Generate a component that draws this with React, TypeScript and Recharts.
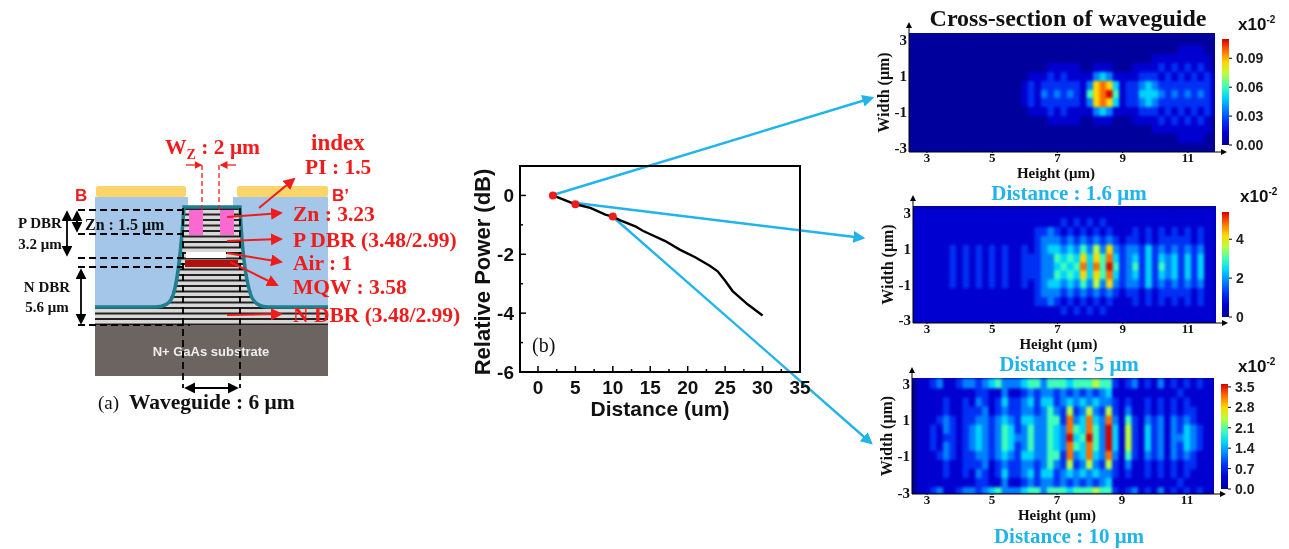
import React from 'react';
import {
  BarChart,
  Bar,
  LineChart,
  Line,
  ScatterChart,
  Scatter,
  XAxis,
  YAxis,
  ReferenceArea,
} from 'recharts';

const SERIF = '"Liberation Serif", serif';
const SANS = '"Liberation Sans", Arial, sans-serif';
const RED = '#f01c1c';
const CYAN = '#20b4ea';

// relative power curve, panel (b)
const distances = [2, 3, 5, 7, 9, 10, 11, 13, 14, 15, 17, 19, 21, 23, 24, 25, 26, 28, 30];
const powers = [0, -0.1, -0.3, -0.42, -0.65, -0.72, -0.85, -1.05, -1.2, -1.32, -1.55, -1.85, -2.1, -2.4, -2.58, -2.9, -3.25, -3.7, -4.08];
const probeDistances = [2, 5, 10];
const probePowers = [0, -0.3, -0.72];
const distanceTicks = [0, 2.5, 5, 7.5, 10, 12.5, 15, 17.5, 20, 22.5, 25, 27.5, 30, 32.5, 35];
const powerTicks = [-6, -5, -4, -3, -2, -1, 0];

// field maps: one digit (0-9 colour level) per cell, rows go from width 0 up to width 3
const cellHeights = [2.6, 2.8, 3, 3.2, 3.4, 3.6, 3.8, 4, 4.2, 4.4, 4.6, 4.8, 5, 5.2, 5.4, 5.6, 5.8, 6, 6.2, 6.4, 6.6, 6.8, 7, 7.2, 7.4, 7.6, 7.8, 8, 8.2, 8.4, 8.6, 8.8, 9, 9.2, 9.4, 9.6, 9.8, 10, 10.2, 10.4, 10.6, 10.8, 11, 11.2, 11.4, 11.6, 11.8];
const cellWidths = [0, 0.5, 1, 1.5, 2, 2.5, 3];

const field16 = [
  '00000000000000000121323232157895122444323232321',
  '00000000000000000121222222137874122343222222221',
  '00000000000000000011121211113431111222121212121',
  '00000000000000000000011111001110001111212121210',
  '00000000000000000000000000000000000001111111110',
  '00000000000000000000000000000000000000000111100',
  '00000000000000000000000000000000000000000000000',
];
const field5 = [
  '11111121212121211222334545848595235242534242411',
  '11111121212121211222335454747584234242434242411',
  '11111121212121211212344343536373233242323232311',
  '11111111111111111112333232323232122121222221211',
  '11111111111111111112232121212121112121212121211',
  '11111111111111111111111212121211111111111111111',
  '11111111111111111111111111111111111111111111111',
];
const field10 = [
  '01121221234323543353354394595394162142313343211',
  '01121321234323542353354385485394162142313243211',
  '01112321223323432443355283484383152132313232111',
  '01111211222312322332353262363262131121212122111',
  '01111211213212422342442343434332121121212121111',
  '01111111112211311232332323232341111111111211111',
  '01123112332345333455355545556552123121312121211',
];

const jetLevels = ['#00009c', '#0000d0', '#0030f4', '#0080ff', '#00d4ff', '#40ffb8', '#b8ff40', '#ffd800', '#ff6c00', '#d80000'];

const heightTicks = [3, 5, 7, 9, 11];
const widthTicks = [3, 1, -1, -3];

const barTicks16 = [0, 0.03, 0.06, 0.09];
const barTicks5 = [0, 2, 4];
const barTicks10 = [0, 0.7, 1.4, 2.1, 2.8, 3.5];

const toCells = (rows: string[]) =>
  rows.flatMap((row, r) =>
    row.split('').flatMap((c, i) => {
      const cell = { h: cellHeights[i], w: cellWidths[r], level: Number(c) };
      return r === 0 ? [cell] : [cell, { ...cell, w: -cellWidths[r] }];
    })
  );

const CellShape = (props: any) => (
  <rect
    x={props.cx - 3.5}
    y={props.cy - 5}
    width={7}
    height={10}
    fill={jetLevels[props.payload.level]}
  />
);

const NoShape = () => <g />;

interface PanelProps {
  id: string;
  rows: string[];
  plot: { left: number; top: number; right: number; bottom: number };
  xDomain: number[];
  yDomain: number[];
  bar: { left: number; right: number; top: number; bottom: number };
  barMax: number;
  barTicks: number[];
  barDigits: number;
  caption: string;
  captionX: number;
  captionY: number;
}

// one field map: blurred cells, axes on top, colour bar at the side
const FieldPanel = ({ id, rows, plot, xDomain, yDomain, bar, barMax, barTicks, barDigits, caption, captionX, captionY }: PanelProps) => {
  const cells = toCells(rows);
  const w = plot.right - plot.left;
  const h = plot.bottom - plot.top;
  const chartLeft = plot.left - 44;
  return (
    <>
      <div style={{ position: 'absolute', left: plot.left, top: plot.top, width: w, height: h, overflow: 'hidden', background: jetLevels[0] }}>
        <div style={{ filter: 'blur(1.5px)' }}>
          <ScatterChart width={w} height={h} margin={{ top: 0, right: 0, bottom: 0, left: 0 }}>
            <XAxis type="number" dataKey="h" domain={xDomain} hide />
            <YAxis type="number" dataKey="w" domain={yDomain} hide />
            <Scatter data={cells} shape={CellShape} isAnimationActive={false} />
          </ScatterChart>
        </div>
      </div>
      <div style={{ position: 'absolute', left: chartLeft, top: plot.top - 10 }}>
        <ScatterChart width={w + 44 + 6} height={h + 44} margin={{ top: 10, right: 6, bottom: 0, left: 0 }}>
          <XAxis
            type="number"
            dataKey="h"
            domain={xDomain}
            ticks={heightTicks}
            interval={0}
            height={34}
            tickSize={1}
            tickMargin={0}
            stroke="#000"
            tick={{ fontFamily: SERIF, fontWeight: 700, fontSize: 13, fill: '#111' }}
            label={{ value: 'Height (μm)', position: 'insideBottom', offset: 8, dx: -6, style: { fontFamily: SERIF, fontWeight: 700, fontSize: 15, fill: '#111' } }}
          />
          <YAxis
            type="number"
            dataKey="w"
            domain={yDomain}
            ticks={widthTicks}
            interval={0}
            width={44}
            tickSize={0}
            tickMargin={2}
            stroke="#000"
            tick={{ fontFamily: SERIF, fontWeight: 700, fontSize: 15, fill: '#111' }}
            label={{ value: 'Width (μm)', angle: -90, position: 'insideLeft', offset: 18, style: { textAnchor: 'middle', fontFamily: SERIF, fontWeight: 700, fontSize: 16, fill: '#111' } }}
          />
          <Scatter data={cells.slice(0, 1)} shape={NoShape} isAnimationActive={false} />
        </ScatterChart>
      </div>
      <svg width={1289} height={549} style={{ position: 'absolute', left: 0, top: 0, pointerEvents: 'none' }}>
        <path d={`M${plot.left},${plot.top} V${plot.top - 8}`} stroke="#000" strokeWidth={1} />
        <path d={`M${plot.left - 3},${plot.top - 5} L${plot.left},${plot.top - 11} L${plot.left + 3},${plot.top - 5} Z`} fill="#000" />
        <path d={`M${plot.right},${plot.bottom} H${plot.right + 8}`} stroke="#000" strokeWidth={1} />
        <path d={`M${plot.right + 6},${plot.bottom - 3} L${plot.right + 12},${plot.bottom} L${plot.right + 6},${plot.bottom + 3} Z`} fill="#000" />
      </svg>
      <div style={{ position: 'absolute', left: bar.left, top: bar.top - 10 }}>
        <BarChart
          width={bar.right - bar.left + 56}
          height={bar.bottom - bar.top + 20}
          data={[{ value: barMax }]}
          margin={{ top: 10, right: 0, bottom: 10, left: 0 }}
          barCategoryGap={0}
        >
          <defs>
            <linearGradient id={id} x1="0" y1="1" x2="0" y2="0">
              {jetLevels.map((c, i) => (
                <stop key={c} offset={i / (jetLevels.length - 1)} stopColor={c} />
              ))}
            </linearGradient>
          </defs>
          <XAxis hide />
          <YAxis
            orientation="right"
            width={56}
            type="number"
            domain={[0, barMax]}
            ticks={barTicks}
            interval={0}
            axisLine={false}
            tickSize={3}
            tickMargin={4}
            stroke="#000"
            tickFormatter={(v: number) => v.toFixed(barDigits)}
            tick={{ fontFamily: SANS, fontWeight: 700, fontSize: 14, fill: '#222', textAnchor: 'start' }}
          />
          <Bar dataKey="value" fill={`url(#${id})`} isAnimationActive={false} />
        </BarChart>
      </div>
      <div style={{ position: 'absolute', left: captionX - 120, width: 240, top: captionY - 9, textAlign: 'center', font: `700 21px ${SERIF}`, color: CYAN, lineHeight: '20px' }}>
        {caption}
      </div>
    </>
  );
};

const ScaleNote = ({ x, y }: { x: number; y: number }) => (
  <div style={{ position: 'absolute', left: x, top: y - 9, font: `700 17px ${SANS}`, color: '#111', lineHeight: '18px', whiteSpace: 'nowrap' }}>
    x10<sup style={{ fontSize: 10, lineHeight: 0 }}>-2</sup>
  </div>
);

const DistanceTick = (props: any) => {
  const { x, y, payload } = props;
  const major = payload.value % 5 === 0;
  return (
    <g>
      <line x1={x} x2={x} y1={y} y2={y - (major ? 6 : 3)} stroke="#000" strokeWidth={1.5} />
      {major && (
        <text x={x} y={y + 22} textAnchor="middle" fontFamily={SANS} fontWeight={700} fontSize={19} fill="#111">
          {payload.value}
        </text>
      )}
    </g>
  );
};

const PowerTick = (props: any) => {
  const { x, y, payload } = props;
  const major = payload.value % 2 === 0;
  return (
    <g>
      <line x1={x} x2={x + (major ? 6 : 3)} y1={y} y2={y} stroke="#000" strokeWidth={1.5} />
      {major && (
        <text x={x - 6} y={y + 7} textAnchor="end" fontFamily={SANS} fontWeight={700} fontSize={19} fill="#111">
          {payload.value}
        </text>
      )}
    </g>
  );
};

const curveData = distances.map((d, i) => ({ d, p: powers[i] }));
const probeData = probeDistances.map((d, i) => ({ d, p: probePowers[i] }));

const PowerChart = () => (
  <div style={{ position: 'absolute', left: 460, top: 150 }}>
    <LineChart width={360} height={280} data={curveData} margin={{ top: 16, right: 20, bottom: 0, left: 0 }}>
      <XAxis
        type="number"
        dataKey="d"
        domain={[-2.4, 35]}
        ticks={distanceTicks}
        interval={0}
        height={58}
        tickSize={0}
        tickMargin={0}
        axisLine={false}
        tick={DistanceTick}
        label={{ value: 'Distance (um)', position: 'insideBottom', offset: 14, dx: 0, style: { fontFamily: SANS, fontWeight: 700, fontSize: 21, fill: '#111' } }}
      />
      <YAxis
        type="number"
        domain={[-6, 1]}
        ticks={powerTicks}
        interval={0}
        width={60}
        tickSize={0}
        tickMargin={0}
        axisLine={false}
        tick={PowerTick}
        label={{ value: 'Relative Power (dB)', angle: -90, position: 'insideLeft', offset: 22, dy: 3, style: { textAnchor: 'middle', fontFamily: SANS, fontWeight: 700, fontSize: 22, fill: '#111' } }}
      />
      <ReferenceArea x1={-2.4} x2={35} y1={-6} y2={1} fill="none" stroke="#000" strokeWidth={2} ifOverflow="extendDomain" />
      <Line dataKey="p" stroke="#000" strokeWidth={2.4} dot={false} isAnimationActive={false} />
      <Line data={probeData} dataKey="p" stroke="none" dot={{ r: 4, fill: RED, stroke: RED, strokeWidth: 0 }} isAnimationActive={false} />
    </LineChart>
  </div>
);

// non-data illustration: layer stack of panel (a), callouts and connector arrows
const Schematic = () => {
  const stripes: React.ReactElement[] = [];
  for (let y = 209; y < 325; y += 5.5) {
    stripes.push(<line key={y} x1={95} x2={328} y1={y} y2={y} stroke="#222" strokeWidth={2} />);
  }
  const red = { stroke: RED, strokeWidth: 2, markerEnd: 'url(#redHead)' };
  const dash = { stroke: '#000', strokeWidth: 1.8, strokeDasharray: '7 4' };
  const redText = { fontFamily: SERIF, fontWeight: 700, fontSize: 21.5, fill: RED };
  const blackBold = { fontFamily: SERIF, fontWeight: 700, fill: '#111' };
  return (
    <svg width={1289} height={549} style={{ position: 'absolute', left: 0, top: 0 }}>
      <defs>
        <marker id="redHead" markerWidth="7" markerHeight="7" refX="5" refY="3" orient="auto">
          <path d="M0,0 L6,3 L0,6 Z" fill={RED} />
        </marker>
        <marker id="cyanHead" markerWidth="6" markerHeight="6" refX="4" refY="2.5" orient="auto">
          <path d="M0,0 L5,2.5 L0,5 Z" fill={CYAN} />
        </marker>
        <marker id="blackHead" markerWidth="7" markerHeight="7" refX="5" refY="3" orient="auto-start-reverse">
          <path d="M0,0 L6,3 L0,6 Z" fill="#000" />
        </marker>
      </defs>
      <rect x={96} y={186} width={90} height={11} rx={2} fill="#fbd46a" />
      <rect x={237} y={186} width={91} height={11} rx={2} fill="#fbd46a" />
      <rect x={95} y={208} width={233} height={117} fill="#d8d8d8" />
      {stripes}
      <path d="M95,197 H188 V207 H182 C181,250 178,285 168,302 C165,306 160,307 155,307 H95 Z" fill="#a4c6e8" />
      <path d="M328,197 H233 V207 H241 C243,250 247,285 255,302 C258,306 263,307 268,307 H328 Z" fill="#a4c6e8" />
      <path d="M95,307 H155 C163,307 169,305 172,298 C178,284 181,250 184,207 H240 C242,250 246,284 252,298 C256,305 261,307 268,307 H328" fill="none" stroke="#1f7f8f" strokeWidth={3.5} />
      <rect x={189} y={210} width={14} height={25} fill="#f86ad0" />
      <rect x={220} y={210} width={14} height={25} fill="#f86ad0" />
      <rect x={186} y={252} width={40} height={6} fill="#fff" />
      <rect x={185} y={260} width={53} height={7} fill="#b01010" />
      <rect x={95} y={325} width={233} height={51} fill="#6b6461" />
      <text x={211} y={356} textAnchor="middle" fontFamily={SANS} fontWeight={700} fontSize={13} fill="#eee">N+ GaAs substrate</text>

      <line x1={78} x2={183} y1={210} y2={210} {...dash} />
      <line x1={78} x2={183} y1={234} y2={234} {...dash} />
      <line x1={78} x2={183} y1={258} y2={258} {...dash} />
      <line x1={78} x2={183} y1={267} y2={267} {...dash} />
      <line x1={78} x2={190} y1={325} y2={325} {...dash} />
      <line x1={183} x2={183} y1={208} y2={388} {...dash} />
      <line x1={240} x2={240} y1={208} y2={388} {...dash} />
      <line x1={67} x2={67} y1={212} y2={255} stroke="#000" strokeWidth={1.8} markerStart="url(#blackHead)" markerEnd="url(#blackHead)" />
      <line x1={77} x2={77} y1={212} y2={231} stroke="#000" strokeWidth={1.8} markerStart="url(#blackHead)" markerEnd="url(#blackHead)" />
      <line x1={81} x2={81} y1={270} y2={323} stroke="#000" strokeWidth={1.8} markerStart="url(#blackHead)" markerEnd="url(#blackHead)" />
      <line x1={186} x2={237} y1={388} y2={388} stroke="#000" strokeWidth={1.8} markerStart="url(#blackHead)" markerEnd="url(#blackHead)" />
      <text x={85} y={230} fontSize={16} {...blackBold}>Zn : 1.5 μm</text>
      <text x={40} y={228} textAnchor="middle" fontSize={15} {...blackBold}>P DBR</text>
      <text x={40} y={249} textAnchor="middle" fontSize={15} {...blackBold}>3.2 μm</text>
      <text x={47} y={292} textAnchor="middle" fontSize={15} {...blackBold}>N DBR</text>
      <text x={47} y={312} textAnchor="middle" fontSize={15} {...blackBold}>5.6 μm</text>
      <text x={98} y={409} fontFamily={SERIF} fontSize={19} fill="#111">(a)</text>
      <text x={129} y={409} fontSize={21.5} {...blackBold}>Waveguide : 6 μm</text>

      <text x={75} y={201} fontFamily={SANS} fontWeight={700} fontSize={17} fill={RED}>B</text>
      <text x={332} y={201} fontFamily={SANS} fontWeight={700} fontSize={17} fill={RED}>B’</text>
      <text x={165} y={154} {...redText}>W<tspan fontSize={14} dy={5}>Z</tspan><tspan dy={-5}> : 2 μm</tspan></text>
      <text x={311} y={150} {...redText} fontSize={23}>index</text>
      <text x={305} y={174} {...redText}>PI : 1.5</text>
      <text x={293} y={221} {...redText}>Zn : 3.23</text>
      <text x={293} y={247} {...redText}>P DBR (3.48/2.99)</text>
      <text x={293} y={270} {...redText}>Air : 1</text>
      <text x={293} y={294} {...redText}>MQW : 3.58</text>
      <text x={293} y={322} {...redText}>N DBR (3.48/2.99)</text>
      <line x1={202} x2={202} y1={165} y2={210} stroke={RED} strokeWidth={1.3} strokeDasharray="5 3" />
      <line x1={219} x2={219} y1={165} y2={210} stroke={RED} strokeWidth={1.3} strokeDasharray="5 3" />
      <line x1={186} x2={201} y1={165} y2={165} stroke={RED} strokeWidth={1.3} markerEnd="url(#redHead)" />
      <line x1={236} x2={221} y1={165} y2={165} stroke={RED} strokeWidth={1.3} markerEnd="url(#redHead)" />
      <line x1={259} x2={294} y1={208} y2={179} {...red} />
      <line x1={227} x2={281} y1={217} y2={213} {...red} />
      <line x1={227} x2={281} y1={241} y2={239} {...red} />
      <line x1={227} x2={281} y1={253} y2={262} {...red} />
      <line x1={230} x2={277} y1={262} y2={285} {...red} />
      <line x1={227} x2={281} y1={315} y2={314} {...red} />

      <line x1={553} x2={872} y1={195} y2={98} stroke={CYAN} strokeWidth={2.4} markerEnd="url(#cyanHead)" />
      <line x1={576} x2={863} y1={203} y2={238} stroke={CYAN} strokeWidth={2.4} markerEnd="url(#cyanHead)" />
      <line x1={613} x2={871} y1={217} y2={443} stroke={CYAN} strokeWidth={2.4} markerEnd="url(#cyanHead)" />

      <text x={532} y={352} fontFamily={SERIF} fontSize={20} fill="#111">(b)</text>
      <text x={1068} y={26} textAnchor="middle" fontFamily={SERIF} fontWeight={700} fontSize={24} fill="#111">Cross-section of waveguide</text>
    </svg>
  );
};

export default function App() {
  return (
    <div style={{ position: 'absolute', left: 0, top: 0, width: 1289, height: 549, background: '#fff', overflow: 'hidden', filter: 'blur(0.4px)' }}>
      <Schematic />
      <PowerChart />
      <FieldPanel
        id="bar16"
        rows={field16}
        plot={{ left: 909, top: 33, right: 1215, bottom: 152 }}
        xDomain={[2.45, 11.83]}
        yDomain={[-3.22, 3.39]}
        bar={{ left: 1222, right: 1229, top: 39, bottom: 145 }}
        barMax={0.11}
        barTicks={barTicks16}
        barDigits={2}
        caption="Distance : 1.6 μm"
        captionX={1069}
        captionY={192}
      />
      <FieldPanel
        id="bar5"
        rows={field5}
        plot={{ left: 913, top: 206, right: 1216, bottom: 323 }}
        xDomain={[2.57, 11.86]}
        yDomain={[-3.17, 3.4]}
        bar={{ left: 1222, right: 1229, top: 212, bottom: 317 }}
        barMax={5.4}
        barTicks={barTicks5}
        barDigits={0}
        caption="Distance : 5 μm"
        captionX={1069}
        captionY={363}
      />
      <FieldPanel
        id="bar10"
        rows={field10}
        plot={{ left: 912, top: 378, right: 1214, bottom: 494 }}
        xDomain={[2.54, 11.83]}
        yDomain={[-3.1, 3.3]}
        bar={{ left: 1221, right: 1228, top: 384, bottom: 489 }}
        barMax={3.6}
        barTicks={barTicks10}
        barDigits={1}
        caption="Distance : 10 μm"
        captionX={1069}
        captionY={535}
      />
      <ScaleNote x={1238} y={25} />
      <ScaleNote x={1240} y={197} />
      <ScaleNote x={1238} y={367} />
    </div>
  );
}
